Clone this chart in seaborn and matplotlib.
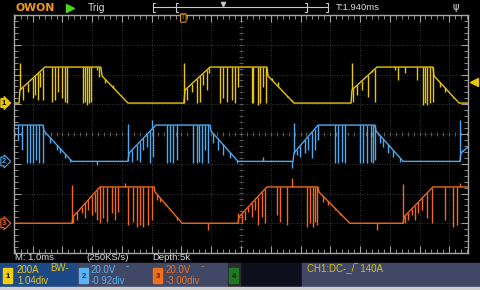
import numpy as np
import matplotlib.pyplot as plt
import seaborn as sns
from matplotlib.patches import Rectangle

# Oscilloscope capture: time in ms from screen centre (1.0 ms/div), level in divisions
# --- CH1 (yellow, current) envelope and glitch spikes ---
ch1_t = [-7.63, -7.46, -7.43, -6.59, -4.71, -4.67, -3.80, -1.92, -1.88, -1.04,
         0.87, 0.91, 1.78, 3.70, 3.73, 4.57, 6.45, 6.49, 7.33, 7.63]
ch1_v = [1.04, 1.04, 1.48, 2.25, 2.25, 1.95, 1.04, 1.04, 1.48, 2.25,
         2.25, 1.95, 1.04, 1.04, 1.48, 2.25, 2.25, 1.95, 1.04, 1.04]
ch1_spike_t = [-7.43, -7.33, -7.16, -6.99, -6.92, -6.82, -6.76, -6.66,
               -6.35, -6.25, -6.15, -6.02, -5.92, -5.85, -5.31, -5.24, -5.18, -5.11, -5.04, -4.84, -4.77,
               -4.57, -4.30,
               -1.92, -1.82, -1.65, -1.48, -1.38, -1.28, -1.14, -1.08,
               -0.71, -0.61, -0.47, -0.30, -0.20, -0.10, 0.37, 0.40, 0.57, 0.64, 0.74, 0.84,
               1.04, 1.24, 1.55, 1.71,
               3.73, 3.76, 3.90, 4.07, 4.27, 4.40, 4.50,
               5.18, 5.28, 5.51, 5.92, 6.12, 6.18, 6.25, 6.35, 6.45,
               6.69, 6.86, 7.13]
ch1_spike_v = [2.39, 1.14, 1.41, 1.21, 1.31, 1.14, 1.58, 1.14,
               1.08, 1.14, 1.41, 1.21, 1.08, 1.04, 1.04, 1.08, 0.97, 1.04, 1.08, 2.15, 1.92,
               1.71, 1.65,
               2.39, 1.14, 1.41, 1.04, 1.08, 1.65, 1.48, 2.05,
               1.04, 1.21, 1.08, 1.14, 1.04, 1.58, 1.04, 1.04, 0.97, 1.04, 1.58, 1.04,
               1.88, 1.75, 1.24, 1.14,
               2.39, 1.08, 1.31, 1.48, 1.24, 2.15, 1.08,
               2.15, 1.82, 2.05, 1.82, 0.97, 1.04, 0.97, 1.04, 1.08,
               1.58, 1.41, 1.21]

# --- CH2 (blue, voltage) ---
ch2_t = [-7.63, -6.66, -6.62, -5.68, -3.80, -3.76, -2.86, -1.04, -1.01, -0.10,
         1.75, 1.78, 2.59, 4.50, 4.54, 5.45, 7.36, 7.39, 7.63]
ch2_v = [0.30, 0.30, 0.10, -0.92, -0.92, -0.64, 0.30, 0.30, 0.10, -0.92,
         -0.92, -0.64, 0.30, 0.30, 0.10, -0.92, -0.92, -0.64, -0.44]
ch2_spike_t = [-7.50, -7.36, -7.19, -7.09, -6.99, -6.89, -6.79, -6.66,
               -6.42, -6.18, -6.08, -5.92, -5.75, -4.84, -3.80,
               -3.66, -3.50, -3.39, -3.29, -3.16, -3.06, -2.99, -2.96,
               -2.49, -2.39, -2.29, -2.15, -1.61, -1.48, -1.41, -1.31, -1.21, -1.11,
               -0.94, -0.77, -0.61, -0.37, -0.13, 0.74, 1.71, 1.78,
               1.88, 1.98, 2.15, 2.25, 2.39, 2.49, 2.59,
               3.16, 3.26, 3.39, 3.50, 4.00, 4.10, 4.24, 4.37, 4.44, 4.50,
               4.67, 4.77, 4.94, 5.11, 5.34, 5.41, 7.36, 7.43]
ch2_spike_v = [-0.20, -0.54, -0.97, -0.97, -0.97, -0.87, -0.97, -0.97,
               -0.30, -0.54, -0.64, -0.81, -0.94, -1.04, 0.34,
               -0.94, -0.87, -0.94, -0.54, -0.44, -0.97, 0.47, -0.77,
               -0.97, -0.94, -0.97, -0.87, -0.97, -0.97, -0.94, -0.97, -0.54, -0.97,
               -0.30, -0.54, -0.71, -0.81, -0.97, -0.77, -1.14, 0.37,
               -0.71, -0.77, -0.64, -0.54, -0.81, -0.54, -0.20,
               -0.97, -0.97, -0.94, -0.97, -0.97, -0.97, -0.97, -0.94, -0.97, -0.87,
               -0.30, -0.44, -0.64, -0.77, -0.94, -0.87, 0.47, -0.54]

# --- CH3 (orange, voltage) ---
ch3_t = [-7.63, -5.68, -5.65, -4.74, -2.92, -2.89, -1.98, -0.10, -0.07, 0.87,
         2.59, 2.62, 3.66, 5.45, 5.48, 6.45, 7.63]
ch3_v = [-3.00, -3.00, -2.79, -1.78, -1.78, -1.95, -3.00, -3.00, -2.79, -1.78,
         -1.78, -1.95, -3.00, -3.00, -2.79, -1.78, -1.78]
ch3_spike_t = [-5.68, -5.65, -5.51, -5.34, -5.24, -5.14, -5.01, -4.91, -4.84, -4.74,
               -4.64, -4.50, -4.34, -4.24, -4.13, -3.90, -3.80, -3.63, -3.50, -3.39, -3.29, -3.13, -2.99,
               -2.82, -2.72, -2.55, -2.39, -2.15, -1.11,
               -0.10, 0.03, 0.13, 0.24, 0.37, 0.47, 0.57, 0.71, 0.81,
               1.21, 1.31, 1.55, 1.71, 2.22, 2.32, 2.42, 2.49, 2.55,
               2.76, 2.92, 3.16, 3.33, 3.56, 4.57,
               5.45, 5.51, 5.61, 5.75, 5.85, 5.95, 6.08, 6.25, 6.42,
               6.86, 7.13, 7.26, 7.36]
ch3_spike_v = [-1.71, -2.99, -2.89, -2.66, -2.82, -2.55, -2.72, -2.62, -2.89, -2.99,
               -2.82, -2.96, -2.66, -2.89, -2.62, -1.65, -3.06, -2.96, -3.13, -3.06, -3.13, -3.06, -2.89,
               -2.22, -2.29, -2.39, -2.55, -2.89, -3.23,
               -2.66, -2.99, -2.89, -2.62, -2.79, -2.55, -3.06, -2.79, -2.99,
               -2.72, -2.96, -3.06, -1.48, -3.13, -2.99, -3.13, -2.96, -3.06,
               -2.29, -2.39, -2.55, -2.72, -2.89, -3.23,
               -1.68, -2.99, -2.89, -2.72, -2.89, -2.66, -2.55, -2.82, -2.99,
               -2.89, -3.13, -3.06, -1.65]

ch_colors = ['#e8c60a', '#4fa9ec', '#f06a1a']
ch_offsets = [1.04, -0.92, -3.00]
trig_time = -1.94
trig_level = 1.74

sns.set_theme(style="dark")
plt.rcParams['font.family'] = ['Liberation Sans', 'DejaVu Sans']

fig = plt.figure(figsize=(4.8, 2.9), dpi=100, facecolor='black')
ax = fig.add_axes([14 / 480, 37 / 290, 454 / 480, 238 / 290])
ax.set_facecolor('black')

# graticule
for k in range(-7, 8):
    ax.axvline(k, color='#4a4a4a', lw=0.6, ls=(0, (1, 2)), zorder=0)
for k in range(-3, 4):
    ax.axhline(k, color='#4a4a4a', lw=0.6, ls=(0, (1, 2)), zorder=0)
minor_x = np.arange(-7.6, 7.61, 0.2)
minor_y = np.arange(-3.8, 3.81, 0.2)
ax.vlines(minor_x, -0.06, 0.06, color='#6a6a6a', lw=0.6, zorder=0)
ax.hlines(minor_y, -0.06, 0.06, color='#6a6a6a', lw=0.6, zorder=0)

traces = [(ch1_t, ch1_v, ch1_spike_t, ch1_spike_v),
          (ch2_t, ch2_v, ch2_spike_t, ch2_spike_v),
          (ch3_t, ch3_v, ch3_spike_t, ch3_spike_v)]
for (t, v, st, sv), col in zip(traces, ch_colors):
    sns.lineplot(x=t, y=v, ax=ax, color=col, lw=1.0, sort=False, estimator=None, legend=False)
    base = np.interp(st, t, v)
    ax.vlines(st, base, sv, color=col, lw=1.0)

ax.set_xlim(-7.63, 7.63)
ax.set_ylim(-4, 4)
ax.set_xticks(np.arange(-7, 8, 1))
ax.set_xticks(minor_x, minor=True)
ax.set_yticks(np.arange(-3, 4, 1))
ax.set_yticks(minor_y, minor=True)
ax.tick_params(which='both', direction='in', color='#a0a0a0', top=True, right=True,
               bottom=True, left=True, labelbottom=False, labelleft=False)
ax.tick_params(which='major', length=5, width=0.8)
ax.tick_params(which='minor', length=3, width=0.6)
ax.grid(False)
for s in ax.spines.values():
    s.set_color('#a8a8a8')
    s.set_linewidth(1.0)

# channel markers and trigger markers
labels = ['1', '2', '3']
for lab, off, col in zip(labels, ch_offsets, ch_colors):
    filled = lab == '1'
    ax.text(-7.97, off, lab, ha='center', va='center', fontsize=5.5, fontweight='bold',
            color='black' if filled else col, clip_on=False,
            bbox=dict(boxstyle='rarrow,pad=0.12', fc=col if filled else 'black', ec=col, lw=0.8))
ax.plot(7.82, trig_level, marker='<', ms=6, color=ch_colors[0], clip_on=False)
ax.text(trig_time, 3.9, 'T', ha='center', va='center', fontsize=5, color='#e8a020',
        bbox=dict(boxstyle='round,pad=0.1', fc='black', ec='#e8a020', lw=0.7))

# overlay for top bar and status panel, pixel coordinates
ov = fig.add_axes([0, 0, 1, 1])
ov.set_xlim(0, 480)
ov.set_ylim(290, 0)
ov.axis('off')
ov.patch.set_alpha(0)

ov.text(15, 8, 'OWON', color='#f09a18', fontsize=7.8, fontweight='bold', va='center',
        family='DejaVu Sans')
ov.plot(70, 8, marker='>', ms=6, color='#4fd21a')
ov.text(88, 8, 'Trig', color='#d8d8d8', fontsize=7.5, va='center')
grey = '#c8c8c8'
ov.plot([153, 328], [7, 7], color=grey, lw=0.8)
for xb, d in [(153, 1), (176, 1), (307, -1), (328, -1)]:
    ov.plot([xb + 2 * d, xb, xb, xb + 2 * d], [3, 3, 12, 12], color=grey, lw=0.8)
ov.plot(223, 4, marker='v', ms=3, color=grey)
ov.text(336, 8, 'T:1.940ms', color='#e0e0e0', fontsize=6.8, va='center')
ov.text(456, 7, 'ψ', color='#e0e0e0', fontsize=7, va='center', ha='center', family='DejaVu Sans')

ov.text(15, 257, 'M: 1.0ms', color='#e0e0e0', fontsize=6.8, va='center')
ov.text(86, 257, '(250KS/s)', color='#e0e0e0', fontsize=6.8, va='center')
ov.text(152, 257, 'Depth:5k', color='#e0e0e0', fontsize=6.8, va='center')

ov.add_patch(Rectangle((0, 263), 480, 24, color='#0e0f1c'))
ov.add_patch(Rectangle((0, 263), 77, 24, color='#1d4a86'))
ov.add_patch(Rectangle((78, 263), 73, 24, color='#404866'))
ov.add_patch(Rectangle((152, 263), 75, 24, color='#404866'))
ov.add_patch(Rectangle((228, 263), 12, 24, color='#2a2a30'))
ov.add_patch(Rectangle((302, 263), 178, 24, color='#404866'))
ov.add_patch(Rectangle((0, 287), 480, 3, color='#d0d0d0'))

badges = [(3, '1', '#f2d00c', 'black'), (79, '2', '#5ab4f4', '#203050'),
          (153, '3', '#f0701c', '#402010'), (229, '4', '#1f7a1f', '#0a200a')]
for bx, lab, fc, tc in badges:
    ov.add_patch(Rectangle((bx, 268), 9, 15, color=fc))
    ov.text(bx + 4.5, 276, lab, color=tc, fontsize=5.5, fontweight='bold', ha='center', va='center')

ov.text(17, 270, '200A', color='#e6c619', fontsize=7, va='center')
ov.text(50, 268, 'BW-', color='#e6c619', fontsize=7, va='center')
ov.text(17, 281, '1.04div', color='#e6c619', fontsize=7, va='center')
ov.text(91, 270, '20.0V', color='#5ab0f0', fontsize=7, va='center')
ov.text(126, 266, '-', color='#5ab0f0', fontsize=7, va='center')
ov.text(91, 281, '-0.92div', color='#5ab0f0', fontsize=7, va='center')
ov.text(166, 270, '20.0V', color='#f07020', fontsize=7, va='center')
ov.text(201, 266, '-', color='#f07020', fontsize=7, va='center')
ov.text(166, 281, '-3.00div', color='#f07020', fontsize=7, va='center')
ov.text(307, 269, 'CH1:DC-_/‾ 140A', color='#d8c010', fontsize=7, va='center')

fig.savefig('out.png', dpi=100, facecolor='black')
